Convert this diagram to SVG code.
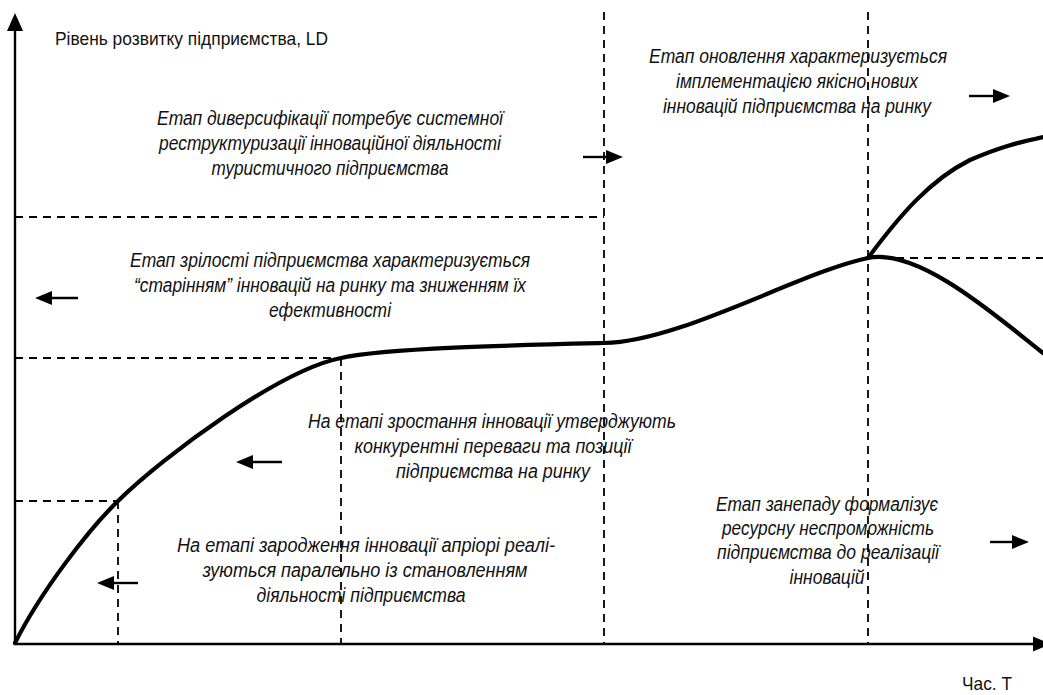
<svg xmlns="http://www.w3.org/2000/svg" width="1043" height="695" viewBox="0 0 1043 695">
<style>
.t{font-family:"Liberation Sans",Arial,sans-serif;font-size:20px;font-style:italic;fill:#111;text-anchor:middle}
.lbl{font-family:"Liberation Sans",Arial,sans-serif;font-size:18.5px;fill:#111}
.dash{stroke:#000;stroke-width:1.8;stroke-dasharray:8 6;fill:none}
.ax{stroke:#000;stroke-width:2.4;fill:none}
.cur{stroke:#000;stroke-width:4.2;fill:none;stroke-linecap:round;stroke-linejoin:round}
.arr{stroke:#000;stroke-width:2.4;fill:none;marker-end:url(#ah)}
</style>
<defs>
<marker id="ah" viewBox="0 0 17 14" refX="8" refY="7" markerWidth="17" markerHeight="14" orient="auto" markerUnits="userSpaceOnUse">
<path d="M0,0 L17,7 L0,14 z" fill="#000"/>
</marker>
</defs>
<rect width="1043" height="695" fill="#fff"/>
<g id="grid">
<line class="dash" x1="604" y1="12" x2="604" y2="644"/>
<line class="dash" x1="868" y1="12" x2="868" y2="644"/>
<line class="dash" x1="341" y1="358" x2="341" y2="644"/>
<line class="dash" x1="118" y1="501" x2="118" y2="644"/>
<line class="dash" x1="15" y1="217" x2="604" y2="217"/>
<line class="dash" x1="15" y1="358" x2="341" y2="358"/>
<line class="dash" x1="15" y1="501" x2="118" y2="501"/>
<line class="dash" x1="868" y1="258" x2="1043" y2="258"/>
</g>
<g id="axes">
<line class="ax" x1="15" y1="644" x2="15" y2="28"/>
<polygon points="7,31 15,13 23,31" fill="#000"/>
<line class="ax" x1="15" y1="644" x2="1036" y2="644"/>
<polygon points="1033,636.5 1051,644 1033,651.5" fill="#000"/>
<text id="ylabel" class="lbl" x="55" y="45" textLength="273" lengthAdjust="spacingAndGlyphs">Рівень розвитку підприємства, LD</text>
<text id="xlabel" class="lbl" x="962" y="690" textLength="50" lengthAdjust="spacingAndGlyphs">Час. Т</text>
</g>
<g id="curve">
<path class="cur" d="M15,643 C40,593 88,530 118,501 C165,455 280,370 341,358 C385,348 520,345 604,343 C680,342 800,272 868,258 C920,247 1003,322 1043,353"/>
<path class="cur" d="M868,258 C900,215 930,180 970,160 C1000,147 1020,142 1043,137"/>
</g>
<g id="connectors">
<line class="arr" x1="583" y1="157" x2="614" y2="157"/>
<line class="arr" x1="969" y1="96" x2="1001" y2="96"/>
<line class="arr" x1="78" y1="298" x2="44" y2="298"/>
<line class="arr" x1="282" y1="462" x2="245" y2="462"/>
<line class="arr" x1="138" y1="583" x2="106" y2="583"/>
<line class="arr" x1="990" y1="542" x2="1020" y2="542"/>
</g>
<g id="stage-diversification">
<text class="t" x="330" y="125" textLength="346" lengthAdjust="spacingAndGlyphs">Етап диверсифікації потребує системної</text>
<text class="t" x="330" y="150" textLength="342" lengthAdjust="spacingAndGlyphs">реструктуризації інноваційної діяльності</text>
<text class="t" x="330" y="175" textLength="237" lengthAdjust="spacingAndGlyphs">туристичного підприємства</text>
</g>
<g id="stage-maturity">
<text class="t" x="330" y="267" textLength="400" lengthAdjust="spacingAndGlyphs">Етап зрілості підприємства характеризується</text>
<text class="t" x="330" y="292" textLength="392" lengthAdjust="spacingAndGlyphs">“старінням” інновацій на ринку та зниженням їх</text>
<text class="t" x="330" y="317" textLength="122" lengthAdjust="spacingAndGlyphs">ефективності</text>
</g>
<g id="stage-growth">
<text class="t" x="492" y="428" textLength="368" lengthAdjust="spacingAndGlyphs">На етапі зростання інновації утверджують</text>
<text class="t" x="493" y="453" textLength="277" lengthAdjust="spacingAndGlyphs">конкурентні переваги та позиції</text>
<text class="t" x="493" y="478" textLength="194" lengthAdjust="spacingAndGlyphs">підприємства на ринку</text>
</g>
<g id="stage-birth">
<text class="t" x="366" y="552" textLength="378" lengthAdjust="spacingAndGlyphs">На етапі зародження інновації апріорі реалі-</text>
<text class="t" x="365" y="577" textLength="325" lengthAdjust="spacingAndGlyphs">зуються паралельно із становленням</text>
<text class="t" x="361" y="602" textLength="209" lengthAdjust="spacingAndGlyphs">діяльності підприємства</text>
</g>
<g id="stage-renewal">
<text class="t" x="798" y="63" textLength="298" lengthAdjust="spacingAndGlyphs">Етап оновлення характеризується</text>
<text class="t" x="797" y="88" textLength="242" lengthAdjust="spacingAndGlyphs">імплементацією якісно нових</text>
<text class="t" x="797" y="113" textLength="268" lengthAdjust="spacingAndGlyphs">інновацій підприємства на ринку</text>
</g>
<g id="stage-decline">
<text class="t" x="827" y="511" textLength="222" lengthAdjust="spacingAndGlyphs">Етап занепаду формалізує</text>
<text class="t" x="828" y="535" textLength="212" lengthAdjust="spacingAndGlyphs">ресурсну неспроможність</text>
<text class="t" x="828" y="559" textLength="222" lengthAdjust="spacingAndGlyphs">підприємства до реалізації</text>
<text class="t" x="827" y="584" textLength="75" lengthAdjust="spacingAndGlyphs">інновацій</text>
</g>
</svg>
